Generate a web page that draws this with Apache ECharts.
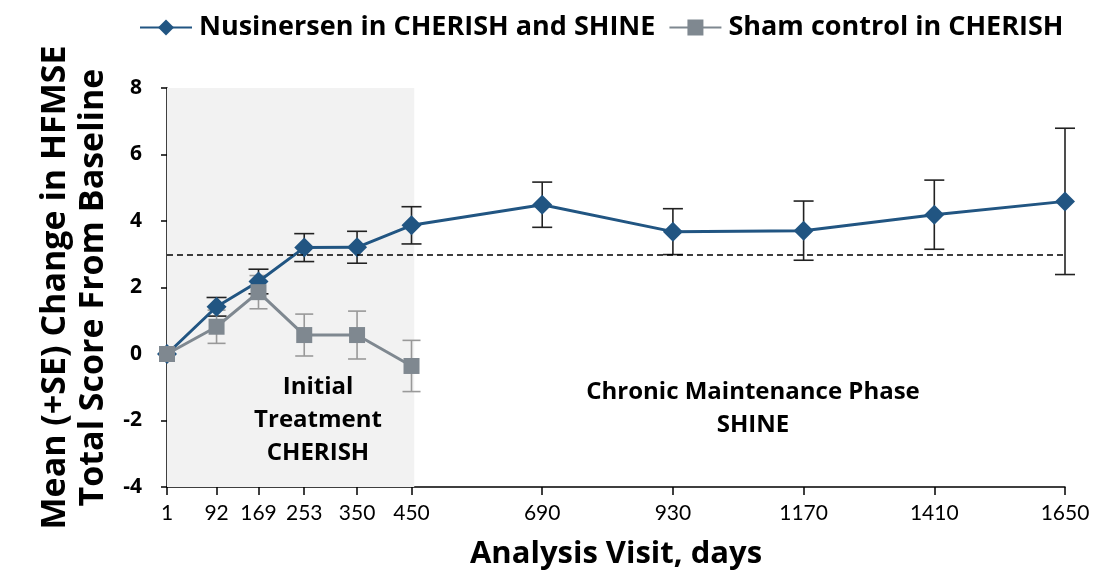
<!DOCTYPE html>
<html>
<head>
<meta charset="utf-8">
<script src="https://cdn.jsdelivr.net/npm/echarts@6/dist/echarts.min.js"></script>
<style>
    html, body { margin: 0; padding: 0; background: #fff; }
    #chart { width: 1096px; height: 575px; }
</style>
</head>
<body>
<div id="chart"></div>
<script>
    // 数据
    var days = [1, 92, 169, 253, 350, 450, 690, 930, 1170, 1410, 1650];
    var nusMean = [0, 1.42, 2.18, 3.20, 3.21, 3.87, 4.49, 3.68, 3.71, 4.19, 4.59];
    var nusSE = [0, 0.28, 0.37, 0.42, 0.48, 0.56, 0.68, 0.69, 0.89, 1.04, 2.2];
    var shamDays = [1, 92, 169, 253, 350, 450];
    var shamMean = [0, 0.82, 1.86, 0.57, 0.57, -0.36];
    var shamSE = [0, 0.5, 0.5, 0.63, 0.72, 0.77];

    var FONT = 'Open Sans';
    var blue = '#215582';
    var grey = '#7f8890';

    function pairs(xs, ys) {
        return xs.map(function (x, i) { return [x, ys[i]]; });
    }
    function errData(xs, ys, se) {
        return xs.map(function (x, i) { return [x, ys[i] - se[i], ys[i] + se[i]]; });
    }
    // 误差线
    function errRender(color, cap) {
        return function (params, api) {
            if (api.value(2) === api.value(1)) return null;
            var lo = api.coord([api.value(0), api.value(1)]);
            var hi = api.coord([api.value(0), api.value(2)]);
            var st = { stroke: color, lineWidth: 1.6 };
            return {
                type: 'group',
                children: [
                    { type: 'line', shape: { x1: lo[0], y1: lo[1], x2: hi[0], y2: hi[1] }, style: st },
                    { type: 'line', shape: { x1: lo[0] - cap, y1: lo[1], x2: lo[0] + cap, y2: lo[1] }, style: st },
                    { type: 'line', shape: { x1: hi[0] - cap, y1: hi[1], x2: hi[0] + cap, y2: hi[1] }, style: st }
                ]
            };
        };
    }

    var myChart = echarts.init(document.getElementById('chart'));
    var option = {
        animation: false,
        grid: { left: 167, right: 31, top: 88, bottom: 88 },
        legend: {
            top: 9,
            left: 134,
            itemWidth: 52,
            itemHeight: 20,
            itemGap: 13,
            textStyle: { fontFamily: FONT, fontWeight: 'bold', fontSize: 27, color: '#000', padding: [0, 0, 0, 2] },
            data: ['Nusinersen in CHERISH and SHINE', 'Sham control in CHERISH']
        },
        xAxis: {
            type: 'value',
            min: 1,
            max: 1650,
            name: 'Analysis Visit, days',
            nameLocation: 'middle',
            nameGap: 52,
            nameTextStyle: { fontFamily: FONT, fontWeight: 'bold', fontSize: 31, color: '#000' },
            axisLine: { onZero: false, lineStyle: { color: '#000', width: 1.5 } },
            axisTick: { customValues: days, length: 8, lineStyle: { color: '#000', width: 1.5 } },
            axisLabel: {
                customValues: days, fontFamily: 'Lato', fontSize: 21, color: '#000', margin: 16,
                formatter: function (v) { return String(v); }
            },
            splitLine: { show: false }
        },
        yAxis: {
            type: 'value',
            min: -4,
            max: 8,
            interval: 2,
            name: 'Mean (+SE) Change in HFMSE\nTotal Score From Baseline',
            nameLocation: 'middle',
            nameGap: 55,
            nameTextStyle: { fontFamily: FONT, fontWeight: 'bold', fontSize: 34, color: '#000', lineHeight: 38 },
            axisLine: { show: true, lineStyle: { color: '#000', width: 1.5 } },
            axisTick: { show: true, length: 6, lineStyle: { color: '#000', width: 1.5 } },
            axisLabel: { fontFamily: FONT, fontWeight: 'bold', fontSize: 21, color: '#000', margin: 25 },
            splitLine: { show: false }
        },
        graphic: [
            {
                type: 'text', x: 318, y: 371, z: 100,
                style: { text: 'Initial\nTreatment\nCHERISH', align: 'center', fontFamily: FONT, fontWeight: 'bold', fontSize: 24, lineHeight: 33, fill: '#000' }
            },
            {
                type: 'text', x: 753, y: 376, z: 100,
                style: { text: 'Chronic Maintenance Phase\nSHINE', align: 'center', fontFamily: FONT, fontWeight: 'bold', fontSize: 24, lineHeight: 33, fill: '#000' }
            }
        ],
        series: [
            {
                name: 'Nusinersen in CHERISH and SHINE',
                type: 'line',
                data: pairs(days, nusMean),
                symbol: 'diamond',
                symbolSize: 20,
                itemStyle: { color: blue },
                lineStyle: { color: blue, width: 3 },
                z: 3,
                markArea: {
                    silent: true,
                    itemStyle: { color: '#f2f2f2' },
                    data: [[{ xAxis: 1, yAxis: -4 }, { xAxis: 455, yAxis: 8 }]]
                },
                markLine: {
                    silent: true,
                    symbol: 'none',
                    label: { show: false },
                    lineStyle: { color: '#000', type: [6, 4], width: 1.5 },
                    data: [[{ coord: [1, 3] }, { coord: [1650, 3] }]]
                }
            },
            {
                name: 'Sham control in CHERISH',
                type: 'line',
                data: pairs(shamDays, shamMean),
                symbol: 'rect',
                symbolSize: 16,
                itemStyle: { color: grey },
                lineStyle: { color: grey, width: 3 },
                z: 4
            },
            {
                type: 'custom',
                data: errData(days, nusMean, nusSE),
                renderItem: errRender('#222', 10),
                z: 2
            },
            {
                type: 'custom',
                data: errData(shamDays, shamMean, shamSE),
                renderItem: errRender('#999', 9),
                z: 2
            }
        ]
    };
    myChart.setOption(option);
</script>
</body>
</html>
